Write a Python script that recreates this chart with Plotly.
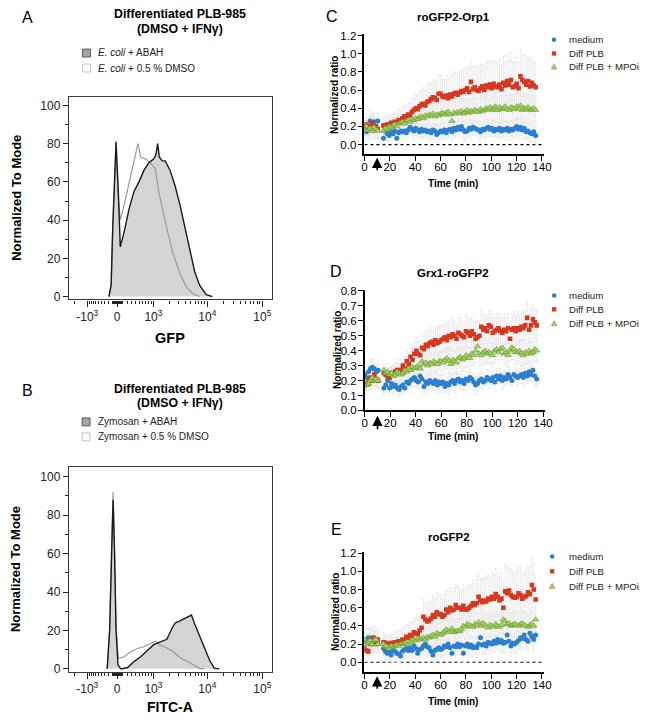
import numpy as np
import plotly.graph_objects as go

W, H = 647, 727
FONT = "Liberation Sans, Arial, sans-serif"


def fx(px):
    return px / W


def fy(py):
    return 1 - py / H


# ---------------- Flow cytometry histograms (display channel of biexponential axis) ----------------
gfp_abah_channel = [-0.148, -0.107, -0.077, -0.048, -0.018, 0.023, 0.059, 0.130, 0.220, 0.309, 0.398, 0.488,
                    0.577, 0.666, 0.705, 0.738, 0.768, 0.821, 0.875, 0.964, 1.054, 1.143, 1.232, 1.321, 1.411,
                    1.500, 1.620, 1.732]
gfp_abah = [0, 6, 37, 63, 81, 55, 26, 34, 46, 55, 60, 66, 70, 72, 74, 80, 73, 71, 71, 66, 58, 48, 36, 24, 13,
            6, 1, 0]
gfp_dmso_channel = [-0.148, -0.107, -0.077, -0.048, -0.018, 0.023, 0.059, 0.130, 0.220, 0.309, 0.380, 0.429,
                    0.518, 0.607, 0.696, 0.755, 0.845, 0.934, 1.023, 1.143, 1.262, 1.380, 1.500]
gfp_dmso = [0, 6, 37, 63, 78, 52, 40, 48, 60, 72, 80, 73, 72, 70, 67, 55, 43, 32, 22, 12, 5, 1.5, 0]

fitc_abah_channel = [-0.179, -0.134, -0.098, -0.071, -0.045, -0.018, 0.018, 0.071, 0.191, 0.309, 0.429, 0.548,
                     0.666, 0.786, 0.905, 0.995, 1.054, 1.143, 1.262, 1.352, 1.411, 1.500, 1.589, 1.679, 1.768,
                     1.857]
fitc_abah = [0, 20, 60, 88, 60, 20, 2, 0, 0.7, 3.8, 6.3, 9.7, 12.6, 14, 15.4, 20.9, 23.9, 25, 26.8, 28, 23.4,
             17.4, 10.6, 4.6, 0.3, 0]
fitc_dmso_channel = [-0.179, -0.134, -0.098, -0.071, -0.045, -0.018, 0.023, 0.130, 0.250, 0.370, 0.488, 0.607,
                     0.696, 0.786, 0.905, 1.023, 1.143, 1.262, 1.380, 1.500, 1.589]
fitc_dmso = [0, 22, 65, 92, 62, 22, 5.5, 6.3, 8.9, 10.6, 11.5, 13.2, 14.4, 12.3, 10.9, 8.9, 5.8, 4.1, 2, 0.3, 0]

biex_tick_values = [-1000, 0, 1000, 10000, 100000]
biex_tick_labels = ["-10<sup>3</sup>", "0", "10<sup>3</sup>", "10<sup>4</sup>", "10<sup>5</sup>"]
hist_y_ticks = [0, 20, 40, 60, 80, 100]


def biex(v):
    v = np.asarray(v, dtype=float)
    d = np.arcsinh(v / 459.0) / np.log(10)
    return np.where(v < 0, d * 0.82, d)


minor_vals = []
for k in [1, 2, 3, 4]:
    for m in range(1, 10):
        val = m * 10 ** k
        if val not in biex_tick_values:
            minor_vals.append(val)
for k in [1, 2, 3]:
    for m in range(1, 10):
        val = -m * 10 ** k
        if val not in biex_tick_values:
            minor_vals.append(val)

# ---------------- Time courses (values x 100) ----------------
t_pre = [0, 1.5, 3, 4.5, 6, 7.5, 9, 10.5]
t_post = list(np.round(np.arange(15, 135.01, 1.5), 1))

# roGFP2-Orp1
c_med_pre = [18, 14, 20, 26, 22, 25, 18, 26]
c_med = [7, 15, 12, 10, 14, 12, 15, 7, 13, 15, 14, 15, 13, 16, 19, 17, 15, 18, 16, 14,
         17, 15, 16, 14, 15, 13, 16, 15, 11, 13, 15, 14, 16, 13, 16, 17, 14, 18, 16, 19,
         17, 20, 16, 14, 15, 18, 17, 19, 18, 17, 16, 14, 17, 16, 18, 19, 17, 18, 15, 17,
         16, 18, 15, 17, 16, 18, 15, 17, 16, 18, 20, 17, 19, 16, 18, 14, 15, 13, 12, 14, 10]
c_plb_pre = [20, 22, 17, 20, 24, 18, 20, 17]
c_plb = [21, 21, 22, 22, 24, 23, 25, 24, 27, 26, 29, 31, 30, 33, 32, 36, 38, 40, 39, 42,
         44, 45, 43, 47, 48, 50, 52, 51, 49, 56, 56, 53, 52, 54, 51, 55, 53, 56, 57, 55,
         57, 59, 58, 60, 62, 58, 69, 61, 63, 60, 59, 62, 64, 60, 65, 63, 66, 62, 67, 64,
         63, 66, 61, 68, 65, 70, 66, 71, 63, 64, 67, 62, 75, 71, 69, 66, 70, 64, 68, 65, 63]
c_mpo_pre = [17, 20, 16, 18, 15, 19, 17, 15]
c_mpo = [15, 18, 17, 20, 19, 21, 22, 20, 23, 24, 25, 23, 26, 27, 25, 28, 27, 29, 28, 30,
         31, 29, 32, 31, 33, 32, 34, 31, 33, 32, 34, 35, 33, 35, 36, 33, 26, 35, 34, 36,
         35, 37, 34, 36, 38, 35, 37, 36, 38, 37, 36, 39, 37, 38, 40, 39, 41, 38, 40, 42,
         38, 41, 39, 40, 42, 39, 38, 41, 40, 39, 42, 40, 43, 38, 40, 39, 41, 38, 39, 40, 38]
c_med_err_pre = [8, 10, 9, 12, 10, 9, 11, 8]
c_med_err = [6, 7, 8, 6, 7, 8, 7, 6, 8, 7, 8, 7, 9, 8, 7, 8, 9, 8, 7, 8,
             9, 8, 7, 8, 9, 8, 7, 8, 9, 8, 8, 9, 8, 7, 9, 8, 10, 8, 9, 8,
             9, 8, 10, 9, 8, 9, 10, 9, 8, 9, 10, 9, 8, 9, 10, 9, 8, 9, 10, 9,
             9, 10, 9, 8, 10, 9, 10, 9, 8, 10, 9, 10, 9, 10, 9, 8, 9, 10, 9, 8, 9]
c_plb_err_pre = [10, 12, 9, 11, 10, 12, 9, 10]
c_plb_err = [8, 9, 8, 10, 9, 10, 11, 10, 12, 11, 12, 13, 12, 14, 13, 15, 14, 16, 15, 17,
             16, 18, 17, 18, 19, 18, 20, 19, 21, 20, 21, 22, 20, 22, 21, 23, 22, 24, 22, 23,
             24, 22, 25, 23, 24, 26, 24, 25, 23, 26, 25, 27, 24, 26, 25, 27, 26, 28, 25, 27,
             26, 28, 27, 29, 26, 28, 27, 30, 28, 27, 29, 28, 30, 27, 29, 28, 27, 29, 28, 26, 27]
c_mpo_err_pre = [8, 9, 10, 8, 9, 8, 10, 9]
c_mpo_err = [6, 7, 7, 8, 7, 8, 8, 9, 8, 9, 9, 10, 9, 10, 10, 11, 10, 11, 11, 12,
             11, 12, 12, 11, 12, 13, 12, 13, 12, 13, 13, 12, 14, 13, 12, 14, 13, 14, 13, 14,
             14, 13, 15, 14, 13, 15, 14, 15, 14, 13, 15, 14, 15, 14, 16, 15, 14, 15, 16, 15,
             14, 16, 15, 14, 16, 15, 16, 14, 15, 16, 15, 16, 14, 15, 16, 15, 14, 16, 15, 14, 15]

# Grx1-roGFP2
d_med_pre = [24, 22, 26, 28, 29, 28, 26, 27]
d_med = [15, 17, 20, 15, 18, 16, 17, 15, 14, 16, 17, 15, 19, 18, 20, 21, 22, 20, 19, 23,
         21, 16, 19, 18, 20, 19, 18, 20, 17, 19, 18, 19, 16, 18, 17, 19, 20, 18, 20, 21,
         19, 20, 18, 21, 20, 22, 21, 19, 17, 18, 20, 21, 19, 20, 22, 21, 20, 22, 19, 23,
         21, 23, 20, 22, 21, 24, 22, 20, 24, 23, 22, 23, 24, 22, 25, 23, 26, 24, 27, 23, 21]
d_plb_pre = [17, 20, 18, 22, 20, 24, 21, 20]
d_plb = [25, 24, 23, 22, 25, 24, 26, 27, 25, 27, 30, 28, 33, 31, 36, 34, 38, 40, 38, 37,
         42, 41, 44, 43, 45, 46, 44, 47, 45, 46, 47, 48, 49, 47, 50, 49, 51, 50, 48, 52,
         51, 50, 49, 53, 52, 50, 53, 51, 48, 49, 50, 56, 54, 55, 53, 57, 56, 52, 53, 54,
         55, 53, 52, 54, 53, 55, 48, 54, 55, 53, 55, 54, 56, 55, 57, 62, 54, 57, 61, 59, 57]
d_mpo_pre = [20, 17, 18, 20, 22, 20, 21, 20]
d_mpo = [27, 25, 26, 24, 25, 23, 24, 26, 25, 24, 25, 27, 26, 28, 27, 29, 28, 29, 30, 28,
         33, 31, 32, 30, 32, 31, 33, 32, 31, 33, 33, 32, 34, 35, 33, 31, 34, 33, 32, 35,
         36, 34, 35, 37, 36, 35, 38, 37, 40, 43, 38, 37, 39, 40, 38, 39, 38, 37, 40, 41,
         39, 41, 42, 38, 39, 37, 40, 42, 41, 39, 39, 40, 38, 37, 39, 38, 40, 38, 39, 41, 40]
d_med_err_pre = [4, 5, 4, 6, 5, 4, 5, 4]
d_med_err = [4, 5, 4, 5, 6, 5, 4, 5, 5, 6, 5, 4, 5, 6, 5, 5, 6, 5, 4, 5,
             6, 5, 5, 6, 5, 4, 5, 6, 5, 5, 6, 5, 4, 5, 6, 5, 5, 6, 5, 4,
             5, 6, 5, 5, 6, 5, 4, 5, 6, 5, 5, 6, 5, 4, 5, 6, 5, 5, 6, 5,
             4, 5, 6, 5, 5, 6, 5, 4, 5, 6, 5, 5, 6, 5, 4, 5, 6, 5, 5, 6, 5]
d_plb_err_pre = [5, 6, 5, 4, 6, 5, 5, 6]
d_plb_err = [4, 5, 5, 6, 5, 6, 6, 7, 6, 7, 7, 8, 7, 8, 8, 9, 8, 9, 8, 9,
             9, 10, 9, 10, 9, 10, 10, 9, 10, 11, 10, 9, 10, 11, 10, 9, 11, 10, 9, 10,
             11, 10, 9, 11, 10, 11, 10, 9, 11, 10, 10, 11, 10, 9, 11, 10, 11, 10, 9, 11,
             10, 11, 10, 11, 9, 10, 11, 10, 11, 10, 11, 10, 9, 11, 10, 11, 10, 11, 10, 9, 10]
d_mpo_err_pre = [5, 4, 5, 6, 5, 4, 5, 5]
d_mpo_err = [4, 4, 5, 5, 4, 5, 5, 6, 5, 6, 6, 5, 6, 6, 7, 6, 6, 7, 6, 7,
             7, 6, 7, 7, 6, 7, 8, 7, 7, 6, 7, 8, 7, 7, 8, 7, 6, 7, 8, 7,
             7, 8, 7, 8, 7, 7, 8, 7, 8, 7, 8, 7, 8, 8, 7, 8, 7, 8, 8, 7,
             8, 7, 8, 7, 8, 8, 7, 8, 7, 8, 8, 7, 8, 7, 8, 7, 8, 8, 7, 8, 7]

# roGFP2
e_med_pre = [22, 25, 27, 24, 20, 27, 25, 20]
e_med = [15, 12, 10, 11, 8, 13, 12, 10, 9, 7, 12, 14, 15, 13, 16, 13, 18, 15, 10, 14,
         15, 18, 20, 17, 16, 12, 8, 13, 14, 16, 14, 15, 18, 17, 20, 16, 10, 18, 17, 20,
         17, 19, 10, 18, 20, 17, 19, 16, 17, 16, 20, 27, 19, 20, 18, 22, 21, 20, 23, 21,
         25, 22, 24, 21, 22, 30, 23, 18, 21, 20, 22, 24, 27, 26, 30, 25, 23, 32, 28, 25, 30]
e_plb_pre = [15, 13, 12, 20, 27, 22, 20, 25]
e_plb = [22, 21, 20, 18, 21, 20, 22, 21, 23, 22, 25, 24, 28, 27, 30, 29, 33, 32, 31, 35,
         38, 50, 47, 45, 46, 48, 52, 50, 55, 53, 53, 50, 52, 58, 55, 60, 57, 58, 63, 60,
         60, 58, 62, 58, 58, 60, 62, 65, 63, 65, 72, 68, 66, 68, 67, 70, 69, 72, 70, 75,
         72, 68, 70, 60, 78, 76, 79, 74, 72, 71, 72, 76, 74, 70, 72, 73, 77, 75, 85, 80, 69]
e_mpo_pre = [25, 20, 22, 24, 20, 24, 25, 20]
e_mpo = [20, 18, 17, 16, 18, 17, 18, 19, 18, 20, 20, 21, 22, 20, 23, 22, 25, 24, 26, 25,
         26, 27, 25, 28, 27, 29, 30, 28, 32, 31, 30, 32, 34, 36, 33, 35, 37, 33, 34, 35,
         34, 36, 40, 39, 42, 41, 40, 39, 42, 41, 44, 40, 43, 42, 40, 38, 41, 40, 39, 42,
         40, 39, 41, 47, 45, 42, 43, 40, 41, 42, 41, 40, 42, 43, 41, 40, 39, 41, 42, 40, 47]
e_med_err_pre = [10, 12, 11, 13, 10, 12, 11, 10]
e_med_err = [8, 9, 8, 10, 9, 8, 9, 10, 9, 8, 9, 10, 9, 8, 10, 9, 10, 9, 8, 10,
             9, 10, 9, 10, 9, 8, 10, 9, 10, 9, 10, 9, 10, 11, 9, 10, 9, 11, 10, 9,
             10, 11, 10, 9, 11, 10, 11, 10, 9, 11, 10, 11, 10, 11, 10, 9, 11, 10, 11, 10,
             11, 10, 12, 10, 11, 10, 11, 12, 10, 11, 12, 10, 11, 12, 11, 10, 12, 11, 10, 12, 11]
e_plb_err_pre = [11, 12, 10, 13, 11, 12, 10, 11]
e_plb_err = [9, 10, 9, 11, 10, 11, 12, 11, 12, 13, 12, 14, 13, 15, 14, 16, 15, 17, 16, 18,
             17, 19, 18, 19, 20, 19, 21, 20, 21, 22, 21, 20, 22, 21, 23, 22, 21, 23, 22, 24,
             23, 22, 24, 23, 25, 24, 23, 25, 24, 26, 25, 24, 26, 25, 27, 26, 25, 27, 26, 28,
             27, 26, 28, 27, 29, 28, 27, 29, 28, 27, 29, 28, 30, 28, 27, 29, 28, 30, 29, 28, 27]
e_mpo_err_pre = [10, 11, 9, 12, 10, 11, 10, 9]
e_mpo_err = [7, 8, 7, 8, 9, 8, 9, 8, 9, 10, 9, 10, 9, 10, 11, 10, 11, 10, 11, 12,
             11, 12, 11, 12, 11, 12, 13, 12, 11, 12, 13, 12, 13, 12, 13, 12, 13, 14, 12, 13,
             14, 13, 12, 14, 13, 14, 13, 12, 14, 13, 14, 13, 14, 13, 14, 15, 13, 14, 13, 14,
             15, 14, 13, 15, 14, 13, 15, 14, 13, 14, 15, 14, 13, 14, 15, 14, 13, 14, 15, 14, 13]

series_names = ["medium", "Diff PLB", "Diff PLB + MPOi"]
time_ticks = [0, 20, 40, 60, 80, 100, 120, 140]

BLUE = "#2a7fcf"
RED = "#d6381f"
GREEN_FILL = "#a9d46c"
GREEN_EDGE = "#6c9f2c"
ERR = "#e6e6e6"

fig = go.Figure()


# ---------------- Histograms ----------------
def add_hist(xa, ya, ch_abah, v_abah, ch_dmso, v_dmso):
    fig.add_trace(go.Scatter(x=ch_abah, y=v_abah, mode="lines", fill="tozeroy", fillcolor="#d4d4d4",
                             line=dict(width=0, color="#d4d4d4"), xaxis=xa, yaxis=ya, showlegend=False,
                             hoverinfo="skip"))
    fig.add_trace(go.Scatter(x=ch_dmso, y=v_dmso, mode="lines", line=dict(width=1.2, color="#9a9a9a"),
                             xaxis=xa, yaxis=ya, showlegend=False))
    fig.add_trace(go.Scatter(x=ch_abah, y=v_abah, mode="lines", line=dict(width=1.4, color="#1a1a1a"),
                             xaxis=xa, yaxis=ya, showlegend=False))


add_hist("x", "y", gfp_abah_channel, gfp_abah, gfp_dmso_channel, gfp_dmso)
add_hist("x2", "y2", fitc_abah_channel, fitc_abah, fitc_dmso_channel, fitc_dmso)

# ---------------- Time courses ----------------
panels = [
    ("x3", "y3", [(c_med_pre, c_med, c_med_err_pre, c_med_err), (c_plb_pre, c_plb, c_plb_err_pre, c_plb_err),
                  (c_mpo_pre, c_mpo, c_mpo_err_pre, c_mpo_err)]),
    ("x4", "y4", [(d_med_pre, d_med, d_med_err_pre, d_med_err), (d_plb_pre, d_plb, d_plb_err_pre, d_plb_err),
                  (d_mpo_pre, d_mpo, d_mpo_err_pre, d_mpo_err)]),
    ("x5", "y5", [(e_med_pre, e_med, e_med_err_pre, e_med_err), (e_plb_pre, e_plb, e_plb_err_pre, e_plb_err),
                  (e_mpo_pre, e_mpo, e_mpo_err_pre, e_mpo_err)]),
]
markers = [
    dict(symbol="circle", size=5, color=BLUE, line=dict(width=0)),
    dict(symbol="square", size=4.6, color=RED, line=dict(width=0)),
    dict(symbol="triangle-up", size=5.5, color=GREEN_FILL, line=dict(width=0.7, color=GREEN_EDGE)),
]

for xa, ya, sers in panels:
    for pre, post, epre, epost in sers:
        tt = t_pre + t_post
        vv = [v / 100 for v in pre + post]
        ee = [v / 100 for v in epre + epost]
        fig.add_trace(go.Scatter(x=tt, y=vv, mode="markers", marker=dict(color="rgba(0,0,0,0)", size=1),
                                 error_y=dict(type="data", array=ee, visible=True, color=ERR, thickness=0.8,
                                              width=1.5),
                                 xaxis=xa, yaxis=ya, showlegend=False, hoverinfo="skip"))
    for (pre, post, epre, epost), mk, nm in zip(sers, markers, series_names):
        tt = t_pre + t_post
        vv = [v / 100 for v in pre + post]
        fig.add_trace(go.Scatter(x=tt, y=vv, mode="markers", marker=mk, name=nm, xaxis=xa, yaxis=ya,
                                 showlegend=False))

# ---------------- Axes ----------------
hist_x = dict(range=[-0.875, 2.821], tickmode="array", tickvals=list(biex(biex_tick_values)),
              ticktext=biex_tick_labels, ticks="outside", ticklen=6, tickwidth=1.2, tickcolor="#222",
              showline=True, mirror=True, linecolor="#3a3a3a", linewidth=1.2, showgrid=False, zeroline=False,
              tickfont=dict(size=12, color="#222", family=FONT),
              minor=dict(tickmode="array", tickvals=list(biex(minor_vals)), ticklen=3, tickwidth=1,
                         tickcolor="#222", ticks="outside", showgrid=False))
hist_y = dict(tickmode="array", tickvals=hist_y_ticks, ticks="outside", ticklen=5, tickwidth=1.2,
              tickcolor="#222", showline=True, mirror=True, linecolor="#3a3a3a", linewidth=1.2,
              showgrid=False, zeroline=False, tickfont=dict(size=12, color="#222", family=FONT),
              minor=dict(tick0=0, dtick=10, ticklen=3, tickwidth=1, tickcolor="#222", ticks="outside",
                         showgrid=False))

tc_x = dict(tickmode="array", tickvals=time_ticks, ticks="outside", ticklen=5, tickwidth=1.4,
            tickcolor="black", showline=True, linecolor="black", linewidth=1.6, showgrid=False,
            zeroline=False, ticklabelstandoff=-4, tickfont=dict(size=11.5, color="black", family=FONT))
tc_y = dict(ticks="outside", ticklen=5, tickwidth=1.4, tickcolor="black", showline=True, linecolor="black",
            linewidth=1.6, showgrid=False, zeroline=False, tickformat=".1f", ticklabelstandoff=-1,
            tickfont=dict(size=11.5, color="black", family=FONT))

layout = dict(
    width=W, height=H, margin=dict(l=0, r=0, t=0, b=0), paper_bgcolor="white", plot_bgcolor="white",
    font=dict(family=FONT, color="black"), showlegend=False,
    xaxis=dict(domain=[fx(67), fx(274)], anchor="y", **hist_x),
    yaxis=dict(domain=[fy(299), fy(93)], anchor="x", range=[-1.5, 104.6], **hist_y),
    xaxis2=dict(domain=[fx(67), fx(274)], anchor="y2", **hist_x),
    yaxis2=dict(domain=[fy(677), fy(469)], anchor="x2", range=[-1.5, 105.1], **hist_y),
    xaxis3=dict(domain=[fx(367.7), fx(550)], anchor="y3", range=[0, 141.3], **tc_x),
    yaxis3=dict(domain=[fy(151.7), fy(29.3)], anchor="x3", range=[-0.108, 1.218], tick0=0, dtick=0.2, **tc_y),
    xaxis4=dict(domain=[fx(368), fx(551)], anchor="y4", range=[0, 141.2], **tc_x),
    yaxis4=dict(domain=[fy(411.7), fy(289)], anchor="x4", range=[0, 0.809], tick0=0, dtick=0.1, **tc_y),
    xaxis5=dict(domain=[fx(367.7), fx(550)], anchor="y5", range=[0, 141.3], **tc_x),
    yaxis5=dict(domain=[fy(677.3), fy(555)], anchor="x5", range=[-0.108, 1.218], tick0=0, dtick=0.2, **tc_y),
)
fig.update_layout(**layout)

ann = []
shapes = []


def text(px, py, s, size, bold=False, anchor="center", angle=0, color="black"):
    if bold:
        s = "<b>" + s + "</b>"
    ann.append(dict(x=fx(px), y=fy(py), xref="paper", yref="paper", text=s, showarrow=False,
                    xanchor=anchor, yanchor="middle", textangle=angle,
                    font=dict(size=size, family=FONT, color=color)))


# Panel A / B text
text(25, 13, "A", 16)
text(180, 9.5, "Differentiated PLB-985", 12.3, bold=True)
text(180, 24.5, "(DMSO + IFNγ)", 12.3, bold=True)
text(95, 48.5, "<i>E. coli</i> + ABAH", 10, anchor="left", color="#222")
text(95, 64, "<i>E. coli</i> + 0.5 % DMSO", 10, anchor="left", color="#222")
text(13, 196, "Normalized To Mode", 13, bold=True, angle=-90)
text(170, 338, "GFP", 14.5, bold=True)

text(25, 391, "B", 16)
text(180, 390, "Differentiated PLB-985", 12.3, bold=True)
text(180, 404, "(DMSO + IFNγ)", 12.3, bold=True)
text(95, 423.3, "Zymosan + ABAH", 10, anchor="left", color="#222")
text(95, 438.5, "Zymosan + 0.5 % DMSO", 10, anchor="left", color="#222")
text(13, 573, "Normalized To Mode", 13, bold=True, angle=-90)
text(170, 713, "FITC-A", 14, bold=True)

for cy_, fill, edge in [(48.8, "#a6a6a6", "#555555"), (64, "white", "#c4c4c4")]:
    shapes.append(dict(type="rect", xref="paper", yref="paper", x0=fx(81), x1=fx(89), y0=fy(cy_ + 4),
                       y1=fy(cy_ - 4), fillcolor=fill, line=dict(color=edge, width=1)))
for cy_, fill, edge in [(423.3, "#a6a6a6", "#555555"), (438.5, "white", "#c4c4c4")]:
    shapes.append(dict(type="rect", xref="paper", yref="paper", x0=fx(80.5), x1=fx(88.5), y0=fy(cy_ + 4),
                       y1=fy(cy_ - 4), fillcolor=fill, line=dict(color=edge, width=1)))

# Panels C/D/E text
text(335, 12, "C", 16)
text(458, 12.5, "roGFP2-Orp1", 11.5, bold=True)
text(337, 91, "Normalized ratio", 10, bold=True, angle=-90)
text(458, 181, "Time (min)", 10, bold=True)

text(339, 270.7, "D", 16)
text(458, 272, "Grx1-roGFP2", 11.5, bold=True)
text(340, 350, "Normalized ratio", 10, bold=True, angle=-90)
text(458, 438.5, "Time (min)", 10, bold=True)

text(339, 532.3, "E", 16)
text(454, 540, "roGFP2", 11.5, bold=True)
text(338, 616, "Normalized ratio", 10, bold=True, angle=-90)
text(458, 707, "Time (min)", 10, bold=True)


def legend_block(gx, tx, rows):
    for (cy_, nm, kind) in zip(rows, series_names, ["c", "s", "t"]):
        text(tx, cy_, nm, 9.6, anchor="left", color="#222")
        if kind == "c":
            r = 2.3
            shapes.append(dict(type="circle", xref="paper", yref="paper", x0=fx(gx - r), x1=fx(gx + r),
                               y0=fy(cy_ + r), y1=fy(cy_ - r), fillcolor=BLUE, line=dict(width=0)))
        elif kind == "s":
            s = 2.2
            shapes.append(dict(type="rect", xref="paper", yref="paper", x0=fx(gx - s), x1=fx(gx + s),
                               y0=fy(cy_ + s), y1=fy(cy_ - s), fillcolor=RED, line=dict(width=0)))
        else:
            s = 2.6
            p = "M {:.5f},{:.5f} L {:.5f},{:.5f} L {:.5f},{:.5f} Z".format(
                fx(gx - s), fy(cy_ + s * 0.85), fx(gx + s), fy(cy_ + s * 0.85), fx(gx), fy(cy_ - s * 1.05))
            shapes.append(dict(type="path", xref="paper", yref="paper", path=p, fillcolor=GREEN_FILL,
                               line=dict(color=GREEN_EDGE, width=0.7)))


legend_block(560.5, 573.5, [35.3, 49.2, 62.8])
legend_block(560.7, 574, [295, 309, 323.3])
legend_block(558.7, 573.3, [560, 575, 590])

# Dotted zero lines (C and E)
for xa, ya in [("x3", "y3"), ("x5", "y5")]:
    shapes.append(dict(type="line", xref=xa, yref=ya, x0=0, x1=140, y0=0, y1=0, layer="below",
                       line=dict(color="black", width=1.1, dash="dot")))

# Stimulation arrows at t = 10 min
for xa, tip, tail in [("x3", 155, 169), ("x4", 417, 432), ("x5", 681.5, 695.5)]:
    ann.append(dict(x=10, y=fy(tip), xref=xa, yref="paper", ax=0, ay=tail - tip, axref="pixel", ayref="pixel",
                    text="", showarrow=True, arrowhead=2, arrowsize=1.3, arrowwidth=1.6, arrowcolor="black"))

fig.update_layout(annotations=ann, shapes=shapes)
fig.write_html("out.html", config={"displayModeBar": False},
               post_script="document.body.style.margin='0px';document.body.style.padding='0px';"
                           "document.body.style.overflow='hidden';")
